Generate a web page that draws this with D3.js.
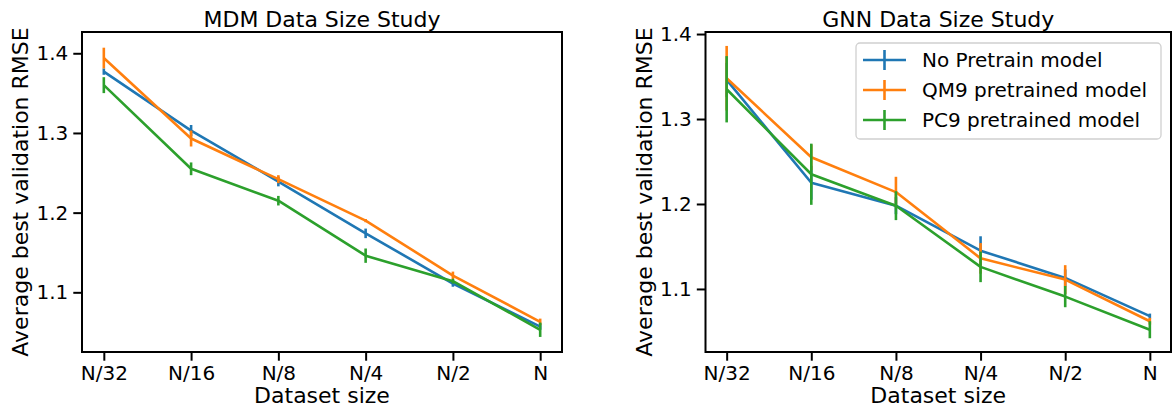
<!DOCTYPE html>
<html><head><meta charset="utf-8">
<script src="https://cdn.jsdelivr.net/npm/d3@7"></script>
<style>
body{margin:0;background:#fff}
text{font-family:"DejaVu Sans",sans-serif;fill:#000}
</style>
</head><body>
<svg id="chart" width="1173" height="408"></svg>
<script>
// ---- data ----
const categories = ["N/32", "N/16", "N/8", "N/4", "N/2", "N"];
const yTickValues = [1.1, 1.2, 1.3, 1.4];
const seriesNames = ["No Pretrain model", "QM9 pretrained model", "PC9 pretrained model"];
const seriesColors = ["#1f77b4", "#ff7f0e", "#2ca02c"];

// MDM panel
const mdmNoPretrain    = [1.377, 1.303, 1.239, 1.174, 1.111, 1.057];
const mdmNoPretrainErr = [0.004, 0.007, 0.006, 0.006, 0.004, 0.004];
const mdmQM9           = [1.394, 1.293, 1.242, 1.190, 1.121, 1.063];
const mdmQM9Err        = [0.013, 0.010, 0.005, 0.002, 0.005, 0.004];
const mdmPC9           = [1.360, 1.255, 1.215, 1.146, 1.114, 1.053];
const mdmPC9Err        = [0.010, 0.008, 0.006, 0.009, 0.003, 0.009];

// GNN panel
const gnnNoPretrain    = [1.346, 1.225, 1.198, 1.145, 1.113, 1.068];
const gnnNoPretrainErr = [0.020, 0.020, 0.010, 0.017, 0.010, 0.003];
const gnnQM9           = [1.348, 1.255, 1.214, 1.136, 1.111, 1.062];
const gnnQM9Err        = [0.038, 0.015, 0.018, 0.018, 0.017, 0.004];
const gnnPC9           = [1.335, 1.235, 1.198, 1.126, 1.091, 1.052];
const gnnPC9Err        = [0.039, 0.036, 0.017, 0.018, 0.0125, 0.010];

// ---- layout ----
const svg = d3.select("#chart");
const panels = [
  {title: "MDM Data Size Study", left: 82, right: 562, top: 32, bottom: 352,
   yDomain: [1.0251, 1.4267], ylabelX: 28, legend: false,
   series: [[mdmNoPretrain, mdmNoPretrainErr], [mdmQM9, mdmQM9Err], [mdmPC9, mdmPC9Err]]},
  {title: "GNN Data Size Study", left: 705.5, right: 1171, top: 32, bottom: 352,
   yDomain: [1.0258, 1.4024], ylabelX: 652, legend: true,
   series: [[gnnNoPretrain, gnnNoPretrainErr], [gnnQM9, gnnQM9Err], [gnnPC9, gnnPC9Err]]}
];

const LW = 2.6;

panels.forEach(p => {
  const x = d3.scalePoint().domain(categories).range([p.left, p.right]).padding(0.25);
  const y = d3.scaleLinear().domain(p.yDomain).range([p.bottom, p.top]);
  const g = svg.append("g");

  // series
  p.series.forEach(([vals, errs], si) => {
    const col = seriesColors[si];
    const pts = categories.map((c, i) => ({c, v: vals[i], e: errs[i]}));
    g.append("path")
      .datum(pts)
      .attr("fill", "none")
      .attr("stroke", col)
      .attr("stroke-width", LW)
      .attr("stroke-linejoin", "round")
      .attr("d", d3.line().x(d => x(d.c)).y(d => y(d.v)));
    g.selectAll(null).data(pts).enter().append("line")
      .attr("x1", d => x(d.c)).attr("x2", d => x(d.c))
      .attr("y1", d => y(d.v - d.e)).attr("y2", d => y(d.v + d.e))
      .attr("stroke", col).attr("stroke-width", LW);
  });

  // spines
  g.append("rect")
    .attr("x", p.left).attr("y", p.top)
    .attr("width", p.right - p.left).attr("height", p.bottom - p.top)
    .attr("fill", "none").attr("stroke", "#000").attr("stroke-width", 2);

  // axes
  const ax = g.append("g").attr("transform", `translate(0,${p.bottom})`)
    .call(d3.axisBottom(x).tickSize(8.7).tickPadding(5));
  const ay = g.append("g").attr("transform", `translate(${p.left},0)`)
    .call(d3.axisLeft(y).tickValues(yTickValues).tickSize(8.7).tickPadding(5).tickFormat(d3.format(".1f")));
  [ax, ay].forEach(a => {
    a.select(".domain").remove();
    a.selectAll(".tick line").attr("stroke", "#000").attr("stroke-width", 2);
    a.selectAll(".tick text").attr("font-size", 20).attr("font-family", "DejaVu Sans").attr("fill", "#000");
  });

  const cx = (p.left + p.right) / 2;
  g.append("text").attr("x", cx).attr("y", 26.5).attr("text-anchor", "middle")
    .attr("font-size", 22).text(p.title);
  g.append("text").attr("x", cx).attr("y", 403).attr("text-anchor", "middle")
    .attr("font-size", 22).text("Dataset size");
  g.append("text")
    .attr("transform", `translate(${p.ylabelX},${(p.top + p.bottom) / 2}) rotate(-90)`)
    .attr("text-anchor", "middle").attr("font-size", 22)
    .text("Average best validation RMSE");

  if (p.legend) {
    const lx = 856, ly = 43, lw = 305, lh = 96;
    const lg = g.append("g");
    lg.append("rect").attr("x", lx).attr("y", ly).attr("width", lw).attr("height", lh)
      .attr("rx", 4).attr("fill", "#fff").attr("fill-opacity", 0.8)
      .attr("stroke", "#d0d0d0").attr("stroke-width", 1.3);
    seriesNames.forEach((name, i) => {
      const cy = 60 + i * 30;
      lg.append("line").attr("x1", 863).attr("x2", 906).attr("y1", cy).attr("y2", cy)
        .attr("stroke", seriesColors[i]).attr("stroke-width", LW);
      lg.append("line").attr("x1", 884.5).attr("x2", 884.5).attr("y1", cy - 10).attr("y2", cy + 10)
        .attr("stroke", seriesColors[i]).attr("stroke-width", LW);
      lg.append("text").attr("x", 922).attr("y", cy + 7).attr("font-size", 20).text(name);
    });
  }
});
</script>
</body></html>
